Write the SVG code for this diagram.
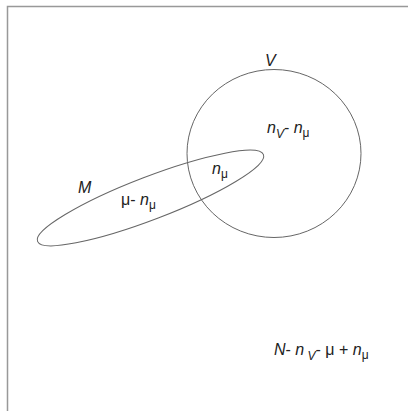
<svg xmlns="http://www.w3.org/2000/svg" width="408" height="411" viewBox="0 0 408 411">
<style>
.shape{fill:none;stroke:#666;stroke-width:1}
.t{font-family:"Liberation Sans",Arial,sans-serif;font-size:16px;fill:#222}
.i{font-style:italic}
.s{font-size:12px}
.frame{stroke:#999;stroke-width:1.5;fill:none}
</style>
<rect width="408" height="411" fill="#fff"/>
<path class="frame" d="M7.5,411 V6.5 H408"/>
<g id="V">
<ellipse class="shape" cx="274" cy="153.5" rx="87" ry="84"/>
<text class="t i" x="265" y="66">V</text>
</g>
<g id="M">
<ellipse class="shape" cx="150.5" cy="198" rx="121" ry="21.5" transform="rotate(-21 150.5 198)"/>
<text class="t i" x="78" y="193">M</text>
</g>
<g id="labels">
<text class="t" x="267" y="133"><tspan class="i">n</tspan><tspan class="s i" dy="5">V</tspan><tspan dy="-5">- </tspan><tspan class="i">n</tspan><tspan class="s" dy="4">μ</tspan></text>
<text class="t" x="212" y="174"><tspan class="i">n</tspan><tspan class="s" dy="4">μ</tspan></text>
<text class="t" x="121" y="205">μ- <tspan class="i">n</tspan><tspan class="s" dy="4">μ</tspan></text>
<text class="t" x="274" y="355"><tspan class="i">N</tspan>- <tspan class="i">n</tspan><tspan class="s i" dy="5"> V</tspan><tspan dy="-5">- μ + </tspan><tspan class="i">n</tspan><tspan class="s" dy="4">μ</tspan></text>
</g>
<g id="connectors"/>
</svg>
